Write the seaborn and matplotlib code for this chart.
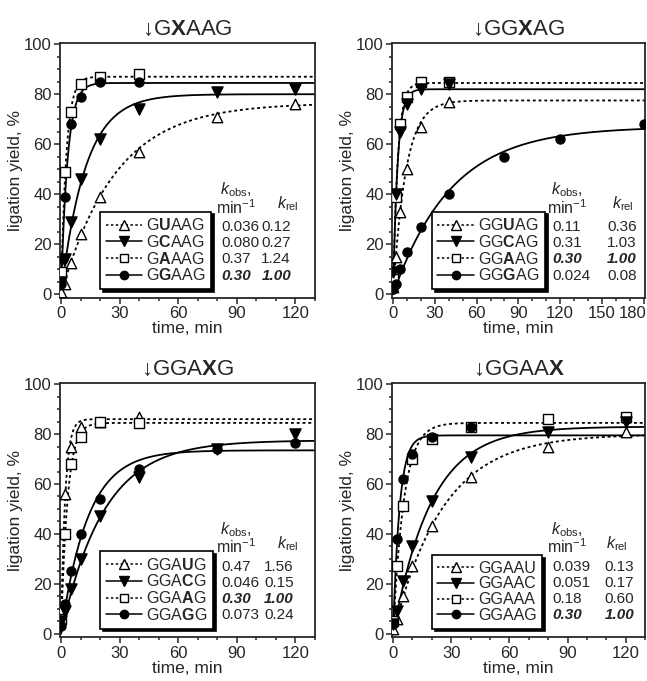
import numpy as np
import matplotlib
matplotlib.use("Agg")
import matplotlib.pyplot as plt
import matplotlib.transforms as mtransforms
import seaborn as sns
from matplotlib.lines import Line2D
from matplotlib.ticker import MultipleLocator

# ─────────────────────────────────────────────────────────────────────────────
# Données (temps en min, rendement de ligation en %)
# ─────────────────────────────────────────────────────────────────────────────

# panneau 1 : ↓GXAAG
p1_labels = ["G$\\mathbf{U}$AAG", "G$\\mathbf{C}$AAG", "G$\\mathbf{A}$AAG", "G$\\mathbf{G}$AAG"]
p1_t = [[0, 2, 5, 10, 20, 40, 80, 120],
        [0, 2, 5, 10, 20, 40, 80, 120],
        [0, 2, 5, 10, 20, 40],
        [0, 1, 2, 5, 10, 20, 40]]
p1_y = [[1, 4, 12.5, 24, 39, 57, 71, 76],
        [5, 14, 29, 46, 62, 74, 81, 82],
        [9, 49, 73, 84, 87, 88],
        [4, 14, 39, 68, 79, 85, 85]]
p1_plateau = [76.5, 80, 87, 84.5]
p1_kobs = ["0.036", "0.080", "0.37", "0.30"]
p1_krel = ["0.12", "0.27", "1.24", "1.00"]

# panneau 2 : ↓GGXAG
p2_labels = ["GG$\\mathbf{U}$AG", "GG$\\mathbf{C}$AG", "GG$\\mathbf{A}$AG", "GG$\\mathbf{G}$AG"]
p2_t = [[0, 2, 5, 10, 20, 40],
        [0, 2, 5, 10, 20, 40],
        [0, 2, 5, 10, 20, 40],
        [0, 2, 5, 10, 20, 40, 80, 120, 180]]
p2_y = [[3, 15, 33, 50, 67, 77],
        [9, 40, 65, 76, 82, 84],
        [6, 39, 68, 79, 85, 85],
        [2, 4, 10, 17, 27, 40, 55, 62, 68]]
p2_plateau = [77.5, 82, 84.5, 67]
p2_kobs = ["0.11", "0.31", "0.30", "0.024"]
p2_krel = ["0.36", "1.03", "1.00", "0.08"]

# panneau 3 : ↓GGAXG
p3_labels = ["GGA$\\mathbf{U}$G", "GGA$\\mathbf{C}$G", "GGA$\\mathbf{A}$G", "GGA$\\mathbf{G}$G"]
p3_t = [[0, 2, 5, 10, 20, 40],
        [0, 2, 5, 10, 20, 40, 80, 120],
        [0, 2, 5, 10, 20, 40],
        [0, 2, 5, 10, 20, 40, 80, 120]]
p3_y = [[10, 56, 75, 83, 85, 87],
        [5, 9, 18, 30, 47, 63, 74, 80],
        [6, 40, 68, 79, 85, 84.5],
        [3, 12, 25, 40, 54, 66, 74, 76.5]]
p3_plateau = [86, 77.5, 84.5, 73.5]
p3_kobs = ["0.47", "0.046", "0.30", "0.073"]
p3_krel = ["1.56", "0.15", "1.00", "0.24"]

# panneau 4 : ↓GGAAX
p4_labels = ["GGAAU", "GGAAC", "GGAAA", "GGAAG"]
p4_t = [[0, 2, 5, 10, 20, 40, 80, 120],
        [0, 2, 5, 10, 20, 40, 80, 120],
        [0, 2, 5, 10, 20, 40, 80, 120],
        [0, 2, 5, 10, 20, 40]]
p4_y = [[2, 6, 15, 27, 43, 63, 75, 81],
        [4, 9, 21, 35, 53, 71, 81, 85],
        [5, 27, 51, 70, 78, 83, 86, 87],
        [4, 38, 62, 72, 79, 83]]
p4_plateau = [80, 83, 84.5, 79.5]
p4_kobs = ["0.039", "0.051", "0.18", "0.30"]
p4_krel = ["0.13", "0.17", "0.60", "1.00"]

# ─────────────────────────────────────────────────────────────────────────────
# Style
# ─────────────────────────────────────────────────────────────────────────────
sns.set_style("ticks")
plt.rcParams["font.family"] = ["Liberation Sans", "DejaVu Sans"]
plt.rcParams["mathtext.fontset"] = "custom"
plt.rcParams["mathtext.rm"] = "Liberation Sans"
plt.rcParams["mathtext.it"] = "Liberation Sans:italic"
plt.rcParams["mathtext.bf"] = "Liberation Sans:bold"

# U, C, A, G : marqueur, remplissage, style de trait
markers = ["^", "v", "s", "o"]
filled = [False, True, False, True]
msizes = [7.5, 8, 6.5, 6.5]
dotted = (0, (1.6, 1.6))
lstyles = [dotted, "-", dotted, "-"]


def draw_panel(ax, title, labels, times, yields, plateaus, kobs, krel,
               bold_row, xmax, col2_x, krel_x):
    t_fit = np.linspace(0, xmax, 400)
    for i in range(4):
        k = float(kobs[i])
        sns.lineplot(x=t_fit, y=plateaus[i] * (1 - np.exp(-k * t_fit)),
                     color="black", lw=1.3, linestyle=lstyles[i], ax=ax,
                     zorder=2)
    for i in [0, 2, 1, 3]:
        sns.scatterplot(x=times[i], y=yields[i], marker=markers[i],
                        s=msizes[i] ** 2,
                        color="black" if filled[i] else "white",
                        edgecolor="black", linewidth=1.0, ax=ax, zorder=3)

    ax.set_xlim(-0.004 * xmax, xmax)
    ax.set_ylim(-1.5, 100.5)
    ax.xaxis.set_major_locator(MultipleLocator(30))
    ax.xaxis.set_minor_locator(MultipleLocator(10))
    ax.yaxis.set_major_locator(MultipleLocator(20))
    ax.yaxis.set_minor_locator(MultipleLocator(5))
    ax.tick_params(which="major", direction="out", length=4, width=1.1,
                   labelsize=12, pad=2)
    ax.tick_params(which="minor", direction="out", length=2.5, width=1.1)
    for sp in ax.spines.values():
        sp.set_linewidth(1.3)
    ax.set_xlabel("time, min", fontsize=12.5, labelpad=0)
    ax.set_ylabel("ligation yield, %", fontsize=12.5, labelpad=1)
    ax.set_title(title, fontsize=16, pad=6)

    handles = []
    for i in range(4):
        handles.append(Line2D([], [], color="black", lw=1.1,
                              linestyle=lstyles[i], marker=markers[i],
                              markersize=msizes[i] - 0.5,
                              markerfacecolor="black" if filled[i] else "white",
                              markeredgecolor="black"))
    leg = ax.legend(handles, labels, loc="lower left",
                    bbox_to_anchor=(0.157, 0.035), fontsize=11.5,
                    handlelength=2.3, handletextpad=0.25, borderpad=0.35,
                    labelspacing=0.05, borderaxespad=0, frameon=True,
                    fancybox=False, numpoints=1,
                    shadow={"color": "black", "alpha": 1})
    leg.get_frame().set_edgecolor("black")
    leg.get_frame().set_linewidth(1.2)
    leg.get_frame().set_alpha(1)

    ax.text(0.69, 0.425, "$k_{\\rm obs}$,", transform=ax.transAxes,
            ha="center", va="center", fontsize=11.5)
    ax.text(0.69, 0.355, "min$^{-1}$", transform=ax.transAxes,
            ha="center", va="center", fontsize=11.5)
    ax.text(krel_x, 0.37, "$k_{\\rm rel}$", transform=ax.transAxes,
            ha="center", va="center", fontsize=11.5)
    rows_y = [0.277, 0.214, 0.151, 0.088]
    for i in range(4):
        kw = dict(transform=ax.transAxes, ha="left", va="center", fontsize=11)
        if i == bold_row:
            kw.update(fontweight="bold", fontstyle="italic")
        ax.text(0.632, rows_y[i], kobs[i], **kw)
        ax.text(col2_x, rows_y[i], krel[i], **kw)


fig = plt.figure(figsize=(6.47, 6.81), dpi=100)
ax1 = fig.add_axes([0.0927, 0.5624, 0.394, 0.3745])
ax2 = fig.add_axes([0.606, 0.5624, 0.391, 0.3745])
ax3 = fig.add_axes([0.0927, 0.0640, 0.394, 0.3736])
ax4 = fig.add_axes([0.606, 0.0640, 0.391, 0.3736])

draw_panel(ax1, "↓G$\\mathbf{X}$AAG", p1_labels, p1_t, p1_y, p1_plateau,
           p1_kobs, p1_krel, bold_row=3, xmax=130, col2_x=0.79, krel_x=0.894)
draw_panel(ax2, "↓GG$\\mathbf{X}$AG", p2_labels, p2_t, p2_y, p2_plateau,
           p2_kobs, p2_krel, bold_row=2, xmax=181, col2_x=0.85, krel_x=0.913)
draw_panel(ax3, "↓GGA$\\mathbf{X}$G", p3_labels, p3_t, p3_y, p3_plateau,
           p3_kobs, p3_krel, bold_row=2, xmax=130, col2_x=0.80, krel_x=0.894)
draw_panel(ax4, "↓GGAA$\\mathbf{X}$", p4_labels, p4_t, p4_y, p4_plateau,
           p4_kobs, p4_krel, bold_row=3, xmax=130, col2_x=0.84, krel_x=0.89)

# le libellé 180 touche le bord droit : on le décale un peu vers la gauche
fig.canvas.draw()
shift = mtransforms.ScaledTranslation(-11 / 100, 0, fig.dpi_scale_trans)
for lab in ax2.get_xticklabels():
    if lab.get_text() == "180":
        lab.set_transform(lab.get_transform() + shift)

fig.savefig("out.png", dpi=100)
